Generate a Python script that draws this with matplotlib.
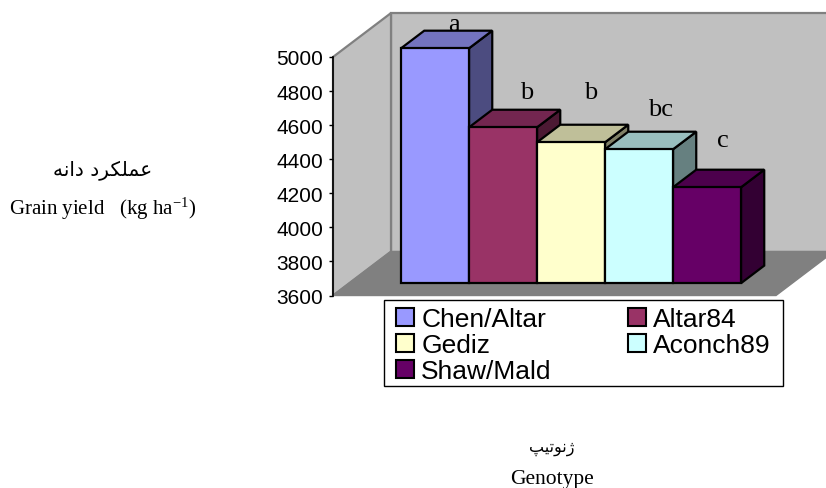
import matplotlib
matplotlib.use("Agg")
import matplotlib.pyplot as plt
from matplotlib.patches import Patch, Polygon, Rectangle

genotypes = ["Chen/Altar", "Altar84", "Gediz", "Aconch89", "Shaw/Mald"]
yields = [4979, 4515, 4427, 4386, 4163]
colors = ["#9999FF", "#993366", "#FFFFCC", "#CCFFFF", "#660066"]
tops = ["#7373BF", "#732650", "#BFBF99", "#99BFBF", "#4C004C"]
sides = ["#4C4C80", "#4C1933", "#808066", "#668080", "#330033"]
letters = ["a", "b", "b", "bc", "c"]
yticks = [3600, 3800, 4000, 4200, 4400, 4600, 4800, 5000]

# Persian labels in presentation forms, reversed, since matplotlib does not shape arabic
yield_fa = "\ufeea\ufee7\ufe8d\ufea9 \ufea9\ufeae\ufb91\ufee0\ufee4\ufecb"
genotype_fa = "\ufb57\ufbff\ufe97\ufeee\ufee7\ufb8a"

W, H = 826, 489
YMIN, YMAX = 3600, 5000
DX, DY = 0.853, 258  # full floor depth in data units
Z0, Z1 = 0.28, 0.68  # bar front and back inside the floor depth


def proj(x, y, z=0):
    return (x + z * DX, y + z * DY)


def ptext(px, py, s, family="Liberation Serif", **kw):
    fig.text(px / W, 1 - py / H, s, ha="center", va="center",
             family=family, color="black", **kw)


plt.rcParams["mathtext.default"] = "regular"
fig = plt.figure(figsize=(W / 100, H / 100), dpi=100)
ax = fig.add_axes([333 / W, 1 - 296.5 / H, 443 / W, 238.5 / H])
ax.set_xlim(-0.762, 5.753)
ax.set_ylim(YMIN, YMAX)
ax.patch.set_visible(False)
for name in ["top", "right", "bottom"]:
    ax.spines[name].set_visible(False)
ax.spines["left"].set_linewidth(1.2)
ax.spines["left"].set_zorder(5)
ax.set_xticks([])
ax.set_yticks(yticks)
ax.tick_params(axis="y", length=3, width=1, pad=4)
for lab in ax.get_yticklabels():
    lab.set_family("Liberation Sans")
    lab.set_fontsize(15)

x0, x1 = ax.get_xlim()
wall = "#808080"
# back wall, left wall, floor
ax.add_patch(Polygon([proj(x0, YMIN, 1), proj(x0, YMAX, 1), proj(x1, YMAX, 1), proj(x1, YMIN, 1)],
                     fc="#C0C0C0", ec=wall, lw=1.6, clip_on=False, zorder=1))
ax.add_patch(Polygon([proj(x0, YMIN), proj(x0, YMAX), proj(x0, YMAX, 1), proj(x0, YMIN, 1)],
                     fc="#C0C0C0", ec=wall, lw=1.6, clip_on=False, zorder=1))
ax.add_patch(Polygon([proj(x0, YMIN), proj(x1, YMIN), proj(x1, YMIN, 1), proj(x0, YMIN, 1)],
                     fc=wall, ec=wall, lw=1, clip_on=False, zorder=1))

for i, val in enumerate(yields):
    l, r = i, i + 1
    style = dict(ec="black", lw=1.6, joinstyle="miter", clip_on=False, zorder=2 + i)
    ax.add_patch(Polygon([proj(r, YMIN, Z0), proj(r, val, Z0), proj(r, val, Z1), proj(r, YMIN, Z1)],
                         fc=sides[i], **style))
    ax.add_patch(Polygon([proj(l, val, Z0), proj(r, val, Z0), proj(r, val, Z1), proj(l, val, Z1)],
                         fc=tops[i], **style))
    ax.add_patch(Polygon([proj(l, YMIN, Z0), proj(r, YMIN, Z0), proj(r, val, Z0), proj(l, val, Z0)],
                         fc=colors[i], **style))

# legend box is drawn apart, the frame of a legend cannot be shorter than its rows
fig.add_artist(Rectangle((384 / W, 1 - 387 / H), 399 / W, 86 / H, transform=fig.transFigure,
                         fc="white", ec="black", lw=1))

# legend fills by column, reference reads by row
order = [0, 2, 4, 1, 3]
handles = [Patch(fc=colors[i], ec="black", lw=1.5) for i in order]
labels = [genotypes[i] for i in order]
leg = fig.legend(handles, labels, ncol=2, loc="upper left",
                 bbox_to_anchor=(396 / W, 1 - 387 / H, 375 / W, 79 / H), mode="expand",
                 frameon=False, borderaxespad=0,
                 prop={"family": "Liberation Sans", "size": 19},
                 handlelength=0.68, handleheight=0.68, handletextpad=0.28,
                 labelspacing=0.08, borderpad=0.0, columnspacing=0.5)

letter_xy = [(454, 25), (527, 93), (591, 93), (661, 110), (723, 141)]
for (px, py), s in zip(letter_xy, letters):
    ptext(px, py, s, fontsize=19)

ptext(103, 170, yield_fa, family="DejaVu Sans", fontsize=14.5)
ptext(103, 209, r"Grain yield   (kg ha$^{-1}$)", fontsize=15)
ptext(552, 449, genotype_fa, family="DejaVu Sans", fontsize=11.5)
ptext(552, 480, "Genotype", fontsize=15.5)

fig.savefig("out.png", dpi=100)
